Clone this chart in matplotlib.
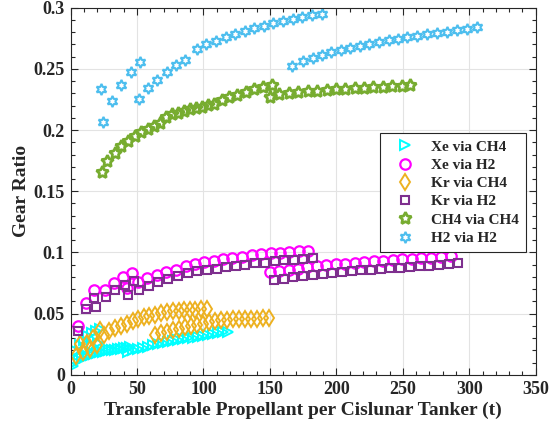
import numpy as np
import matplotlib
matplotlib.use('Agg')
import matplotlib.pyplot as plt
from matplotlib.ticker import MultipleLocator, FuncFormatter

plt.rcParams['font.family'] = 'Liberation Serif'
plt.rcParams['font.weight'] = 'bold'

# Xe via CH4 (three overlapping runs)
xe_ch4_x1 = [1.88, 4.14, 6.40, 8.65, 10.91, 13.17, 15.42, 17.68, 19.94, 22.20,
             24.45, 26.71, 28.97, 31.23, 33.48, 35.74, 38.00, 40.26, 42.51, 44.77]
xe_ch4_y1 = [0.0073, 0.0106, 0.0122, 0.0139, 0.0147, 0.0155, 0.0163, 0.0171, 0.0180, 0.0184,
             0.0188, 0.0196, 0.0200, 0.0204, 0.0208, 0.0212, 0.0216, 0.0220, 0.0224, 0.0229]
xe_ch4_x2 = [4.14, 7.15, 10.16, 13.17, 16.18, 19.19, 22.20, 11.66, 16.18, 20.69]
xe_ch4_y2 = [0.0196, 0.0245, 0.0286, 0.0318, 0.0343, 0.0359, 0.0376, 0.0204, 0.0237, 0.0261]
xe_ch4_x3 = [43.27, 47.03, 50.79, 54.55, 58.31, 62.08, 65.84, 69.60, 73.36, 77.12, 80.89,
             84.65, 88.41, 92.17, 95.94, 99.70, 103.46, 107.22, 110.98, 114.75, 118.51]
xe_ch4_y3 = [0.0188, 0.0200, 0.0212, 0.0222, 0.0232, 0.0241, 0.0250, 0.0259, 0.0267, 0.0275, 0.0283,
             0.0291, 0.0299, 0.0306, 0.0313, 0.0321, 0.0328, 0.0335, 0.0341, 0.0348, 0.0354]

# Xe via H2
xe_h2_x1 = [5.42, 11.66, 17.91, 26.19, 32.73, 39.73, 42.29, 46.50, 50.56, 57.79, 64.86, 71.86,
            79.16, 86.53, 93.68, 100.68, 107.75, 114.75, 121.75, 129.19, 136.19, 143.34,
            150.49, 157.64, 164.64, 171.71, 178.93]
xe_h2_y1 = [0.0400, 0.0590, 0.0694, 0.0694, 0.0753, 0.0798, 0.0708, 0.0830, 0.0762, 0.0789, 0.0816,
            0.0838, 0.0860, 0.0886, 0.0904, 0.0921, 0.0933, 0.0944, 0.0957, 0.0966, 0.0977, 0.0986,
            0.0992, 0.0998, 0.1004, 0.1010, 0.1015]
xe_h2_x2 = [150.11, 157.11, 164.03, 171.03, 178.10, 185.18, 192.25, 199.40, 206.55, 213.70,
            220.84, 227.99, 235.14, 242.29, 249.44, 256.58, 263.73, 271.11, 278.40, 285.93]
xe_h2_y2 = [0.0837, 0.0845, 0.0857, 0.0868, 0.0878, 0.0887, 0.0896, 0.0904, 0.0910, 0.0917,
            0.0922, 0.0928, 0.0933, 0.0939, 0.0944, 0.0949, 0.0953, 0.0958, 0.0963, 0.0969]

# Kr via CH4
kr_ch4_x1 = [4.14, 7.15, 9.18, 12.64, 14.67, 17.15, 20.16, 22.20, 25.21, 29.19, 33.71, 37.77,
             42.29, 46.80, 50.79, 55.30, 59.29, 63.81, 68.32, 72.38, 76.90, 81.41, 85.40,
             89.92, 93.91, 97.97, 102.48]
kr_ch4_y1 = [0.0155, 0.0253, 0.0190, 0.0264, 0.0215, 0.0300, 0.0245, 0.0367, 0.0327, 0.0359,
             0.0381, 0.0400, 0.0416, 0.0438, 0.0455, 0.0471, 0.0482, 0.0492, 0.0504, 0.0512,
             0.0520, 0.0525, 0.0528, 0.0531, 0.0533, 0.0535, 0.0537]
kr_ch4_x2 = [63.81, 68.32, 72.84, 77.35, 81.87, 86.38, 90.90, 95.41, 99.93, 104.44,
             108.95, 113.47, 117.98, 122.50, 127.01, 131.53, 136.04, 140.56, 145.07, 149.59]
kr_ch4_y2 = [0.0327, 0.0340, 0.0355, 0.0367, 0.0378, 0.0389, 0.0400, 0.0411, 0.0420, 0.0430,
             0.0438, 0.0445, 0.0449, 0.0453, 0.0456, 0.0458, 0.0460, 0.0461, 0.0463, 0.0464]

# Kr via H2
kr_h2_x1 = [5.42, 11.44, 17.91, 19.41, 26.49, 33.48, 40.63, 43.49, 47.55, 51.54, 59.07, 66.06,
            73.59, 80.66, 88.19, 95.41, 102.48, 110.01, 117.00, 124.53, 131.53, 139.05,
            146.13, 153.65, 160.65, 168.17, 175.17, 182.70]
kr_h2_y1 = [0.0359, 0.0536, 0.0626, 0.0553, 0.0633, 0.0690, 0.0735, 0.0649, 0.0767, 0.0696,
            0.0727, 0.0759, 0.0786, 0.0808, 0.0830, 0.0847, 0.0857, 0.0868, 0.0879, 0.0890,
            0.0900, 0.0912, 0.0918, 0.0927, 0.0935, 0.0941, 0.0948, 0.0955]
kr_h2_x2 = [153.1, 160.4, 167.7, 175.0, 182.3, 189.6, 196.9, 204.2, 211.5, 218.8,
            226.1, 233.4, 240.7, 248.0, 255.3, 262.6, 269.9, 277.2, 284.5, 291.8]
kr_h2_y2 = [0.0776, 0.0786, 0.0798, 0.0808, 0.0816, 0.0824, 0.0830, 0.0838, 0.0847, 0.0855,
            0.0860, 0.0865, 0.0871, 0.0876, 0.0882, 0.0887, 0.0892, 0.0900, 0.0906, 0.0912]

# CH4 via CH4
ch4_x1 = [23.5, 27.7, 33.3, 38.2, 43.3, 48.3, 53.3, 58.3, 62.8, 67.3, 71.9, 76.4, 80.9,
          85.4, 89.9, 94.4, 98.9, 103.5, 108.0, 114.0, 119.5, 125.5, 132.1, 138.1, 145.1, 151.4]
ch4_y1 = [0.1657, 0.1744, 0.1815, 0.1869, 0.1913, 0.1951, 0.1984, 0.2011, 0.2033, 0.2055,
          0.2106, 0.2128, 0.2141, 0.2155, 0.2169, 0.2180, 0.2190, 0.2202, 0.2212, 0.2245,
          0.2267, 0.2288, 0.2310, 0.2332, 0.2349, 0.2365]
ch4_x2 = [150.1, 157.2, 164.3, 171.3, 178.4, 185.5, 192.6, 199.6, 206.7, 213.8, 220.8,
          227.9, 235.0, 242.1, 249.1, 255.5]
ch4_y2 = [0.2272, 0.2290, 0.2302, 0.2310, 0.2316, 0.2321, 0.2327, 0.2331, 0.2336, 0.2341,
          0.2345, 0.2349, 0.2353, 0.2357, 0.2362, 0.2365]

# H2 via H2
h2_x1 = [22.7, 24.2, 31.2, 38.2, 45.3, 52.3]
h2_y1 = [0.2335, 0.2063, 0.2237, 0.2367, 0.2471, 0.2553]
h2_x2 = [51.3, 58.3, 65.3, 72.4, 79.4, 86.4, 95.0, 102.2, 109.5, 116.8, 124.0, 131.3, 138.4,
         145.6, 152.6, 159.7, 167.2, 174.2, 181.7, 189.2]
h2_y2 = [0.2253, 0.2340, 0.2411, 0.2471, 0.2531, 0.2574, 0.2661, 0.2700, 0.2729, 0.2757,
         0.2784, 0.2807, 0.2829, 0.2851, 0.2872, 0.2890, 0.2906, 0.2922, 0.2939, 0.2949]
h2_x3 = [166.7, 174.7, 182.2, 189.2, 196.2, 203.3, 210.3, 217.8, 224.8, 231.9, 239.4,
         246.4, 253.4, 260.9, 268.0, 275.5, 283.0, 291.0, 298.1, 305.6]
h2_y3 = [0.2520, 0.2563, 0.2590, 0.2612, 0.2634, 0.2651, 0.2667, 0.2688, 0.2704, 0.2716,
         0.2732, 0.2743, 0.2759, 0.2770, 0.2781, 0.2792, 0.2802, 0.2814, 0.2824, 0.2841]

# name, x, y, marker, colour, size, edge width
series = [
    ('Xe via CH4', xe_ch4_x1 + xe_ch4_x2 + xe_ch4_x3, xe_ch4_y1 + xe_ch4_y2 + xe_ch4_y3, '>', '#00FFFF', 6.5, 1.4),
    ('Xe via H2', xe_h2_x1 + xe_h2_x2, xe_h2_y1 + xe_h2_y2, 'o', '#FF00FF', 7.5, 1.6),
    ('Kr via CH4', kr_ch4_x1 + kr_ch4_x2, kr_ch4_y1 + kr_ch4_y2, 'd', '#EDB120', 8, 1.4),
    ('Kr via H2', kr_h2_x1 + kr_h2_x2, kr_h2_y1 + kr_h2_y2, 's', '#7E2F8E', 6, 1.5),
    ('CH4 via CH4', ch4_x1 + ch4_x2, ch4_y1 + ch4_y2, (5, 1, 0), '#77AC30', 9, 2.0),
    ('H2 via H2', h2_x1 + h2_x2 + h2_x3, h2_y1 + h2_y2 + h2_y3, (6, 1, 0), '#4DBEEE', 8, 1.5),
]

dark = '#262626'
fig = plt.figure(figsize=(5.54, 4.29), dpi=100)
ax = fig.add_axes([0.1273, 0.1259, 0.8397, 0.8566])

for name, xs, ys, mk, col, ms, mew in series:
    ax.plot(xs, ys, linestyle='none', marker=mk, markersize=ms,
            markerfacecolor='none', markeredgecolor=col, markeredgewidth=mew,
            label=name)

ax.set_xlim(0, 350)
ax.set_ylim(0, 0.3)
ax.xaxis.set_major_locator(MultipleLocator(50))
ax.xaxis.set_minor_locator(MultipleLocator(10))
ax.yaxis.set_major_locator(MultipleLocator(0.05))
ax.yaxis.set_minor_locator(MultipleLocator(0.01))
ax.yaxis.set_major_formatter(FuncFormatter(lambda v, p: '0' if abs(v) < 1e-9 else ('%.2f' % v).rstrip('0')))
ax.grid(True, which='major', color='#e3e3e3', linewidth=0.8)
ax.set_axisbelow(True)
ax.tick_params(which='both', direction='in', top=True, right=True, colors=dark,
               labelsize=13, width=0.8)
ax.tick_params(which='major', length=5, pad=4)
ax.tick_params(which='minor', length=3)
for lbl in ax.get_xticklabels() + ax.get_yticklabels():
    lbl.set_fontweight('bold')
for sp in ax.spines.values():
    sp.set_color(dark)
    sp.set_linewidth(0.8)

ax.set_xlabel('Transferable Propellant per Cislunar Tanker (t)', fontsize=14,
              fontweight='bold', color=dark, labelpad=3)
ax.set_ylabel('Gear Ratio', fontsize=14, fontweight='bold', color=dark, labelpad=3)

leg = ax.legend(loc='upper left', bbox_to_anchor=(0.665, 0.6585), borderaxespad=0,
                fontsize=11, frameon=True, fancybox=False, edgecolor=dark, framealpha=1,
                handletextpad=0.5, borderpad=0.45, labelspacing=0.3, handlelength=2.4)
leg.get_frame().set_linewidth(0.8)
for t in leg.get_texts():
    t.set_fontweight('bold')
    t.set_color(dark)

fig.savefig('out.png', dpi=100)
